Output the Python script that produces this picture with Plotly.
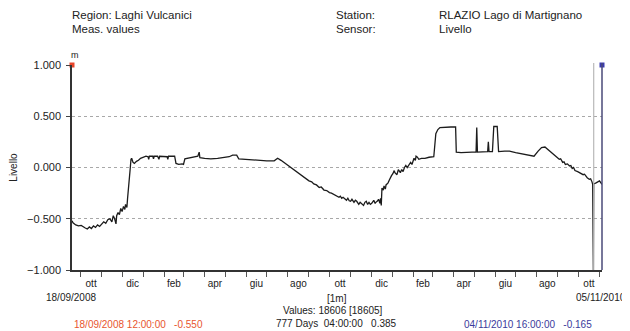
import plotly.graph_objects as go
import pandas as pd

# ---------------- data ----------------
dates = [
    "2008-09-18 12:00", "2008-09-20", "2008-09-24", "2008-09-28", "2008-10-02", "2008-10-05",
    "2008-10-08", "2008-10-11", "2008-10-14", "2008-10-17", "2008-10-20", "2008-10-23",
    "2008-10-26", "2008-10-29", "2008-11-01", "2008-11-04", "2008-11-07", "2008-11-10",
    "2008-11-13", "2008-11-16", "2008-11-18", "2008-11-20", "2008-11-22", "2008-11-23",
    "2008-11-25", "2008-11-27", "2008-11-29", "2008-12-01", "2008-12-03", "2008-12-05",
    "2008-12-06", "2008-12-08", "2008-12-09", "2008-12-10", "2008-12-11", "2008-12-12",
    "2008-12-13", "2008-12-14", "2008-12-15", "2008-12-17", "2008-12-19", "2008-12-22",
    "2008-12-25", "2008-12-28", "2009-01-01", "2009-01-05", "2009-01-08", "2009-01-09",
    "2009-01-10", "2009-01-15", "2009-01-16", "2009-01-17", "2009-01-22", "2009-01-24",
    "2009-01-25", "2009-02-01", "2009-02-05", "2009-02-06", "2009-02-07", "2009-02-12",
    "2009-02-16", "2009-02-18", "2009-02-22", "2009-02-27", "2009-03-01", "2009-03-03",
    "2009-03-08", "2009-03-13", "2009-03-18", "2009-03-22", "2009-03-24", "2009-03-25",
    "2009-04-01", "2009-04-10", "2009-04-20", "2009-04-30", "2009-05-07", "2009-05-12",
    "2009-05-18", "2009-05-21", "2009-05-30", "2009-06-10", "2009-06-20", "2009-07-01",
    "2009-07-12", "2009-07-17", "2009-07-22", "2009-07-28", "2009-08-03", "2009-08-10",
    "2009-08-18", "2009-08-25",
    "2009-09-01", "2009-09-05", "2009-09-08", "2009-09-12", "2009-09-16", "2009-09-19",
    "2009-09-23", "2009-09-27", "2009-10-01", "2009-10-04", "2009-10-08", "2009-10-11",
    "2009-10-15", "2009-10-17", "2009-10-19", "2009-10-21", "2009-10-23", "2009-10-26",
    "2009-10-28", "2009-10-30", "2009-11-01", "2009-11-03", "2009-11-06", "2009-11-08",
    "2009-11-10", "2009-11-13", "2009-11-15", "2009-11-17", "2009-11-20", "2009-11-22",
    "2009-11-24", "2009-11-26", "2009-11-28", "2009-11-30", "2009-12-02", "2009-12-05",
    "2009-12-07", "2009-12-08", "2009-12-10", "2009-12-12", "2009-12-14", "2009-12-15",
    "2009-12-16", "2009-12-17", "2009-12-19", "2009-12-20", "2009-12-22", "2009-12-23",
    "2009-12-26", "2009-12-28", "2009-12-29", "2009-12-31", "2010-01-02", "2010-01-04",
    "2010-01-05", "2010-01-08", "2010-01-10", "2010-01-11", "2010-01-13", "2010-01-15",
    "2010-01-17", "2010-01-19", "2010-01-21", "2010-01-23", "2010-01-26", "2010-01-28",
    "2010-01-30", "2010-02-02", "2010-02-04", "2010-02-05", "2010-02-07", "2010-02-09",
    "2010-02-13", "2010-02-18", "2010-02-24", "2010-03-03",
    "2010-03-06", "2010-03-09", "2010-03-12", "2010-03-20", "2010-03-28", "2010-04-04",
    "2010-04-05", "2010-04-12", "2010-04-20", "2010-04-28", "2010-05-04", "2010-05-05",
    "2010-05-06", "2010-05-15", "2010-05-21", "2010-05-22", "2010-05-23", "2010-05-28",
    "2010-05-30", "2010-06-04", "2010-06-06", "2010-06-15", "2010-06-22", "2010-07-01",
    "2010-07-10", "2010-07-20", "2010-07-28", "2010-08-03", "2010-08-08", "2010-08-13",
    "2010-08-20", "2010-08-24", "2010-08-27", "2010-08-30", "2010-09-03", "2010-09-05",
    "2010-09-08", "2010-09-10", "2010-09-12", "2010-09-15", "2010-09-18", "2010-09-20",
    "2010-09-22", "2010-09-24", "2010-09-26", "2010-09-30", "2010-10-03", "2010-10-05",
    "2010-10-08", "2010-10-10", "2010-10-12", "2010-10-14", "2010-10-17", "2010-10-19",
    "2010-10-21", "2010-10-22", "2010-10-23", "2010-10-23 12:00", "2010-10-27", "2010-11-01",
    "2010-11-04 16:00",
]
levels = [
    -0.52, -0.54, -0.56, -0.57, -0.565, -0.58,
    -0.59, -0.60, -0.58, -0.595, -0.57, -0.585,
    -0.56, -0.575, -0.55, -0.53, -0.545, -0.51,
    -0.50, -0.53, -0.47, -0.50, -0.55, -0.47,
    -0.44, -0.46, -0.40, -0.43, -0.38, -0.41,
    -0.36, -0.39, -0.30, -0.20, -0.17, -0.08,
    0.00, 0.08, 0.09, 0.05, 0.04, 0.06,
    0.07, 0.09, 0.10, 0.11, 0.105, 0.08,
    0.11, 0.11, 0.085, 0.11, 0.11, 0.08,
    0.11, 0.11, 0.105, 0.08, 0.11, 0.11,
    0.11, 0.04, 0.03, 0.035, 0.03, 0.085,
    0.09, 0.095, 0.10, 0.11, 0.15, 0.095,
    0.09, 0.085, 0.09, 0.10, 0.105, 0.12,
    0.12, 0.085, 0.08, 0.075, 0.07, 0.065,
    0.065, 0.09, 0.07, 0.04, 0.015, -0.02,
    -0.065, -0.10,
    -0.13, -0.14, -0.16, -0.17, -0.195, -0.19,
    -0.22, -0.225, -0.245, -0.25, -0.265, -0.27,
    -0.29, -0.28, -0.30, -0.29, -0.30, -0.32,
    -0.30, -0.325, -0.33, -0.31, -0.34, -0.32,
    -0.33, -0.36, -0.34, -0.35, -0.37, -0.34,
    -0.33, -0.36, -0.34, -0.36, -0.35, -0.32,
    -0.35, -0.34, -0.33, -0.31, -0.35, -0.30,
    -0.37, -0.20, -0.22, -0.18, -0.21, -0.17,
    -0.15, -0.12, -0.10, -0.08, -0.06, -0.03,
    -0.05, -0.07, -0.02, -0.03, -0.05, -0.02,
    -0.04, 0.00, 0.02, 0.00, 0.03, 0.05,
    0.03, 0.09, 0.07, 0.11, 0.10, 0.08,
    0.09, 0.09, 0.10, 0.105,
    0.33, 0.37, 0.39, 0.395, 0.395, 0.395,
    0.15, 0.145, 0.15, 0.15, 0.15, 0.39,
    0.15, 0.155, 0.155, 0.25, 0.155, 0.155,
    0.40, 0.40, 0.155, 0.16, 0.16, 0.145,
    0.135, 0.12, 0.11, 0.16, 0.195, 0.20,
    0.16, 0.14, 0.12, 0.11, 0.08, 0.085,
    0.05, 0.055, 0.03, 0.035, 0.015, 0.02,
    -0.01, 0.00, -0.03, -0.04, -0.05, -0.06,
    -0.07, -0.065, -0.09, -0.10, -0.115, -0.11,
    -0.14, -0.165, -1.0, -0.16, -0.15, -0.13,
    -0.165,
]

month_labels = ["ott", "dic", "feb", "apr", "giu", "ago", "ott",
                "dic", "feb", "apr", "giu", "ago", "ott"]
label_months = ["2008-10", "2008-12", "2009-02", "2009-04", "2009-06", "2009-08", "2009-10",
                "2009-12", "2010-02", "2010-04", "2010-06", "2010-08", "2010-10"]
start_time = "2008-09-18 12:00"
end_time = "2010-11-04 16:00"
cursor_time = "2010-10-23 12:00"
y_ticks = [-1.0, -0.5, 0.0, 0.5, 1.0]

# ---------------- layout helpers ----------------
# the page body has an 8px margin, so the figure is 8px smaller and offset
OFF = 8
W, H = 630 - OFF, 331 - OFF
L, T = 64, 57
PW, PH = 530, 205
R, B = W - L - PW, H - T - PH

def pxx(x):
    return (x - OFF - L) / PW

def pxy(y):
    return (H - B - (y - OFF)) / PH

label_pos = []
for m in label_months:
    p = pd.Period(m, freq="M")
    label_pos.append(p.start_time + (p.end_time - p.start_time) / 2)
month_starts = list(pd.date_range("2008-10-01", "2010-11-01", freq="MS"))

FONT = "Liberation Sans, Arial, sans-serif"
TXT = "#222222"

fig = go.Figure()
fig.add_trace(go.Scatter(
    x=pd.to_datetime(dates, format="ISO8601"), y=levels, mode="lines",
    line=dict(color="#1c1c1c", width=1.3), showlegend=False, hoverinfo="x+y"))
fig.add_trace(go.Scatter(
    x=[pd.Timestamp(start_time)], y=[y_ticks[-1]], mode="markers",
    marker=dict(color="#e8452a", size=5, symbol="square"), cliponaxis=False, showlegend=False))
fig.add_trace(go.Scatter(
    x=[pd.Timestamp(end_time)], y=[y_ticks[-1]], mode="markers",
    marker=dict(color="#3b3bb0", size=5, symbol="square"), cliponaxis=False, showlegend=False))

fig.update_layout(
    width=W, height=H,
    margin=dict(l=L, r=R, t=T, b=B, pad=0, autoexpand=False),
    paper_bgcolor="white", plot_bgcolor="white",
    font=dict(family=FONT, size=10, color=TXT),
    xaxis=dict(
        range=[pd.Timestamp(start_time), pd.Timestamp(end_time)], automargin=False,
        tickmode="array", tickvals=label_pos, ticktext=month_labels,
        ticks="outside", ticklen=3, tickcolor="rgba(0,0,0,0)",
        showgrid=False, zeroline=False,
        showline=True, linecolor="#333333", linewidth=1.5,
        tickfont=dict(size=10, color=TXT),
        minor=dict(tickmode="array", tickvals=month_starts, ticks="outside",
                   ticklen=5, tickcolor="#555555", tickwidth=1, showgrid=False),
    ),
    yaxis=dict(
        range=[-1.0, 1.0], automargin=False,
        tickmode="array", tickvals=y_ticks, tickformat=".3f",
        ticks="outside", ticklen=4, tickcolor="#444444",
        showgrid=True, gridcolor="#a8a8a8", griddash="dot", gridwidth=1,
        zeroline=False, showline=True, linecolor="#333333", linewidth=1.5,
        tickfont=dict(size=11, color=TXT), ticklabelstandoff=3,
        title=dict(text="Livello", font=dict(size=10, color=TXT), standoff=12),
    ),
)

# cursor / right border lines
fig.add_shape(type="line", xref="x", yref="paper", x0=pd.Timestamp(cursor_time),
              x1=pd.Timestamp(cursor_time), y0=0, y1=1.01,
              line=dict(color="#b8b8b8", width=1.2))
fig.add_shape(type="line", xref="paper", yref="paper", x0=1, x1=1, y0=0, y1=1.01,
              line=dict(color="#4a4a78", width=1.5))

def ann(text, x, y, xanchor="left", color=TXT, size=10):
    fig.add_annotation(text=text, x=pxx(x), y=pxy(y), xref="paper", yref="paper",
                       xanchor=xanchor, yanchor="middle", showarrow=False,
                       font=dict(family=FONT, size=size, color=color))

ann("Region: Laghi Vulcanici", 70, 15, size=11.5)
ann("Meas. values", 70, 29, size=11.5)
ann("Station:", 334, 15, size=11.5)
ann("Sensor:", 334, 29, size=11.5)
ann("RLAZIO Lago di Martignano", 437, 15, size=11.5)
ann("Livello", 437, 29, size=11.5)
ann("m", 75, 55, xanchor="center", size=9)
ann("18/09/2008", 71, 297, xanchor="center")
ann("05/11/2010", 601, 297, xanchor="center")
ann("[1m]", 337, 298, xanchor="center")
ann("Values: 18606 [18605]", 333, 310, xanchor="center")
ann("777 Days&nbsp;&nbsp;04:00:00&nbsp;&nbsp;&nbsp;0.385", 336, 323, xanchor="center")
ann("18/09/2008 12:00:00&nbsp;&nbsp;&nbsp;-0.550", 72, 324, color="#e8552e")
ann("04/11/2010 16:00:00&nbsp;&nbsp;&nbsp;-0.165", 462, 324, color="#3a3a9c")

fig.write_html("out.html")
